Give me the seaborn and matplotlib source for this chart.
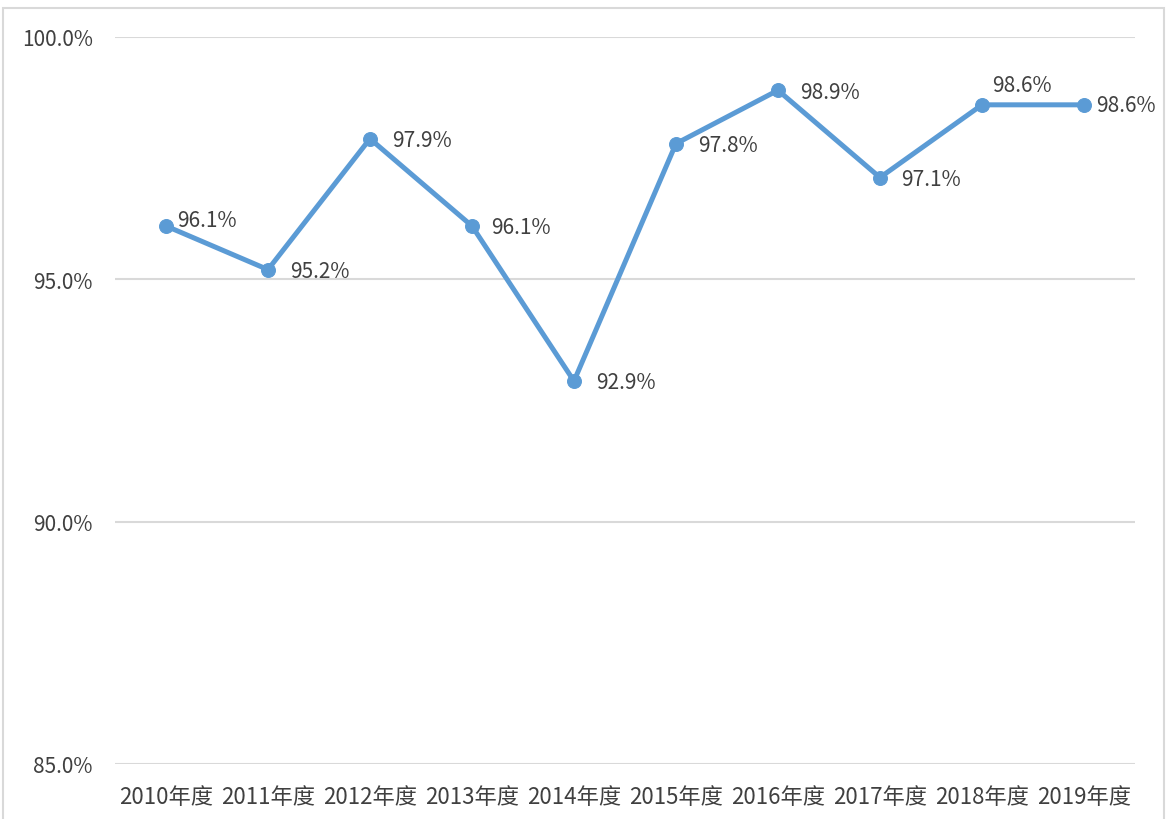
import pandas as pd
import matplotlib.pyplot as plt
import matplotlib.patches as mpatches
from matplotlib.ticker import FuncFormatter
import seaborn as sns

sns.set_style("white")
plt.rcParams['font.family'] = ['Noto Sans CJK SC', 'DejaVu Sans']

# data
years = ['2010年度', '2011年度', '2012年度', '2013年度', '2014年度',
         '2015年度', '2016年度', '2017年度', '2018年度', '2019年度']
rates = [96.1, 95.2, 97.9, 96.1, 92.9, 97.8, 98.9, 97.1, 98.6, 98.6]

# label offsets in points (dx, dy) - Excel "right" labels, one above
label_offsets = [(8, 4), (16, -1), (16, -1), (14, -1), (16, -1),
                 (16, -1), (16, -1), (15, -1), (29, 14), (9, 0)]

df = pd.DataFrame({'year': years, 'rate': rates})

line_color = '#5B9BD5'
text_color = '#404040'
grid_color = '#D9D9D9'

fig = plt.figure(figsize=(11.66, 8.2), dpi=100)
ax = fig.add_axes([0.0986, 0.0671, 0.8748, 0.8866])

sns.lineplot(data=df, x='year', y='rate', ax=ax, color=line_color,
             linewidth=3.6, marker='o', markersize=10,
             markeredgecolor=line_color, sort=False)

ax.set_xlim(-0.5, len(years) - 0.5)
ax.set_ylim(85, 100)
ax.set_yticks([85, 90, 95, 100])
ax.yaxis.set_major_formatter(FuncFormatter(lambda v, _: f'{v:.1f}%'))
ax.grid(axis='y', color=grid_color, linewidth=1.5)
ax.grid(axis='x', visible=False)
for s in ax.spines.values():
    s.set_visible(False)
ax.tick_params(axis='y', length=0, pad=16, labelsize=15, labelcolor=text_color)
ax.tick_params(axis='x', length=0, pad=15, labelsize=16, labelcolor=text_color)
ax.set_xlabel('')
ax.set_ylabel('')

for i, (v, off) in enumerate(zip(rates, label_offsets)):
    ha = 'center' if off[1] > 10 else 'left'
    ax.annotate(f'{v:.1f}%', (i, v), xytext=off, textcoords='offset points',
                ha=ha, va='center', fontsize=15, color=text_color)

# chart frame
fig.patches.append(mpatches.Rectangle((3 / 1166, -0.01), 1161 / 1166, 1 - 9 / 820 + 0.01,
                                      transform=fig.transFigure, fill=False,
                                      edgecolor=grid_color, linewidth=1.5))

fig.savefig('out.png', dpi=100)
